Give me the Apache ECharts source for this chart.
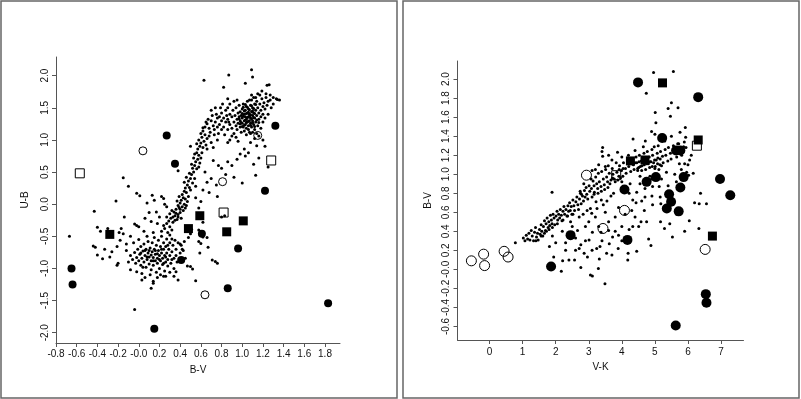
<!DOCTYPE html>
<html>
<head>
<meta charset="utf-8">
<script src="https://cdn.jsdelivr.net/npm/echarts@6/dist/echarts.min.js"></script>
<style>
html,body{margin:0;padding:0;background:#fff;}
#chart{width:801px;height:399px;}
</style>
</head>
<body>
<div id="chart"></div>
<script>
// ---------- Left panel: U-B vs B-V ----------
const leftXTicks = [-0.8,-0.6,-0.4,-0.2,0,0.2,0.4,0.6,0.8,1.0,1.2,1.4,1.6,1.8];
const leftYTicks = [-2.0,-1.5,-1.0,-0.5,0,0.5,1.0,1.5,2.0];

const ubvDots = [
[-0.08,-0.80],[-0.06,-0.86],[-0.04,-0.75],[-0.03,-0.92],[-0.02,-0.83],[-0.01,-0.70],[0.00,-0.88],[0.01,-0.78],[0.02,-0.95],[0.02,-0.66],[0.03,-0.84],[0.04,-0.73],[0.05,-0.90],[0.05,-0.62],[0.06,-0.80],[0.07,-0.98],[0.07,-0.70],[0.08,-0.86],[0.09,-0.76],[0.09,-0.58],[0.10,-0.93],[0.10,-0.82],[0.11,-0.68],[0.12,-1.02],[0.12,-0.88],[0.13,-0.74],[0.13,-0.60],[0.14,-0.83],[0.14,-0.95],[0.15,-0.70],[0.15,-0.52],[0.16,-0.88],[0.16,-0.78],[0.17,-1.06],[0.17,-0.64],[0.18,-0.84],[0.18,-0.92],[0.19,-0.72],[0.19,-0.56],[0.20,-0.80],[0.20,-1.00],[0.21,-0.66],[0.21,-0.88],[0.22,-0.76],[0.22,-0.50],[0.23,-0.94],[0.23,-0.84],[0.24,-0.70],[0.24,-0.60],[0.25,-0.80],[0.25,-1.04],[0.26,-0.90],[0.26,-0.66],[0.27,-0.76],[0.27,-0.54],[0.28,-0.86],[0.28,-0.96],[0.29,-0.70],[0.30,-0.80],[0.30,-0.60],[0.31,-0.92],[0.32,-0.74],[0.33,-0.64],[0.34,-0.84],[0.35,-0.56],[0.36,-0.70],[0.37,-0.90],[0.38,-0.60],[0.40,-0.76],
[-0.12,-0.62],[-0.10,-0.90],[-0.08,-1.02],[-0.05,-0.60],[-0.02,-1.05],[0.00,-0.55],[0.03,-1.08],[0.06,-1.14],[0.08,-0.50],[0.11,-1.10],[0.14,-1.20],[0.18,-1.14],[0.21,-1.10],[0.24,-1.12],[0.04,-0.98],[0.10,-0.72],[0.16,-0.72],[0.22,-0.70],[0.12,-0.79],[0.18,-0.77],[0.08,-0.82],[0.20,-0.86],[0.26,-0.82],[0.06,-0.72],[0.14,-0.88],[0.24,-0.92],[0.02,-0.76],[0.28,-0.64],[0.32,-0.86],[0.34,-1.00],[0.30,-1.06],[0.36,-0.80],[0.40,-0.62],[0.42,-0.70],[0.44,-0.58],
[0.22,-0.42],[0.25,-0.38],[0.28,-0.44],[0.30,-0.35],[0.27,-0.30],[0.32,-0.40],[0.24,-0.33],
[0.29,-0.26],[0.31,-0.22],[0.33,-0.28],[0.35,-0.18],[0.30,-0.15],[0.34,-0.12],[0.37,-0.24],[0.36,-0.08],[0.38,-0.16],[0.33,-0.20],[0.39,-0.05],[0.40,-0.13],[0.32,-0.10],[0.35,-0.25],[0.27,-0.20],[0.38,-0.20],[0.41,-0.22],[0.36,-0.14],
[0.38,-0.02],[0.40,0.02],[0.42,-0.04],[0.41,0.06],[0.43,0.10],[0.44,0.00],[0.45,0.08],[0.39,0.12],[0.42,0.15],[0.46,0.18],[0.44,0.20],[0.47,0.04],[0.40,-0.08],[0.43,-0.10],[0.45,-0.06],[0.48,0.12],[0.37,0.05],[0.46,-0.02],
[0.45,0.25],[0.47,0.30],[0.49,0.26],[0.48,0.36],[0.50,0.40],[0.52,0.33],[0.46,0.42],[0.51,0.46],[0.53,0.50],[0.49,0.48],[0.50,0.22],[0.54,0.40],[0.44,0.34],[0.55,0.28],
[0.52,0.56],[0.54,0.60],[0.56,0.55],[0.55,0.66],[0.57,0.70],[0.53,0.72],[0.58,0.76],[0.56,0.80],[0.59,0.64],[0.60,0.72],[0.51,0.62],[0.58,0.58],[0.61,0.80],[0.54,0.78],
[0.57,0.86],[0.59,0.90],[0.60,0.95],[0.62,0.88],[0.58,1.00],[0.61,1.04],[0.63,0.98],[0.64,1.08],[0.60,1.10],[0.66,1.02],[0.62,1.14],[0.65,0.92],[0.68,1.06],[0.56,0.94],
[0.64,1.20],[0.66,1.25],[0.68,1.18],[0.70,1.30],[0.72,1.22],[0.67,1.32],[0.74,1.28],[0.69,1.12],[0.76,1.34],[0.71,1.38],[0.65,1.28],[0.78,1.24],[0.73,1.16],[0.80,1.30],[0.75,1.40],
[0.86,1.32],[0.88,1.40],[0.88,1.24],[0.90,1.36],[0.90,1.18],[0.91,1.46],[0.92,1.28],[0.92,1.10],[0.93,1.38],[0.94,1.22],[0.94,1.50],[0.95,1.32],[0.95,1.16],[0.96,1.42],[0.96,1.26],[0.97,1.36],[0.97,1.54],[0.98,1.20],[0.98,1.30],[0.98,1.44],[0.99,1.12],[0.99,1.38],[1.00,1.26],[1.00,1.48],[1.00,1.34],[1.01,1.20],[1.01,1.56],[1.02,1.40],[1.02,1.30],[1.02,1.14],[1.03,1.46],[1.03,1.24],[1.03,1.36],[1.04,1.52],[1.04,1.18],[1.04,1.32],[1.05,1.42],[1.05,1.28],[1.05,1.60],[1.06,1.36],[1.06,1.22],[1.06,1.48],[1.07,1.30],[1.07,1.40],[1.07,1.12],[1.08,1.54],[1.08,1.34],[1.08,1.26],[1.09,1.44],[1.09,1.20],[1.09,1.62],[1.10,1.38],[1.10,1.30],[1.10,1.50],[1.11,1.24],[1.11,1.42],[1.11,1.66],[1.12,1.34],[1.12,1.56],[1.12,1.16],[1.13,1.46],[1.13,1.28],[1.14,1.38],[1.14,1.60],[1.15,1.50],[1.15,1.22],[1.16,1.42],[1.16,1.32],[1.17,1.56],[1.17,1.70],[1.18,1.46],[1.18,1.36],[1.19,1.64],[1.20,1.52],[1.20,1.40],[1.21,1.58],[1.22,1.48],[1.23,1.66],[1.24,1.54],[1.25,1.60],[1.27,1.62],[1.30,1.56],[1.33,1.64],[1.36,1.62],
[0.97,1.33],[0.99,1.27],[1.01,1.37],[1.03,1.31],[1.05,1.35],[1.07,1.37],[1.09,1.33],[1.11,1.35],[1.00,1.41],[1.02,1.45],[1.04,1.41],[1.06,1.43],[1.08,1.39],[1.10,1.45],[1.12,1.41],[0.98,1.25],[1.00,1.21],[1.02,1.23],[1.04,1.27],[1.06,1.29],[1.08,1.23],[1.10,1.27],[1.12,1.21],[1.14,1.31],[1.16,1.27],[1.01,1.51],[1.03,1.55],[1.05,1.51],[1.07,1.47],[1.09,1.53],[1.11,1.49],[1.13,1.55],[1.06,1.16],[1.08,1.10],[1.04,1.08],[1.10,1.12],[1.14,1.10],[1.18,1.18],[1.20,1.28],[1.22,1.34],[1.16,1.06],[1.12,1.02],[1.20,1.00],[1.07,1.62],[1.13,1.66],[1.15,1.72],[1.09,1.70],[1.19,1.76],[1.23,1.72],[1.27,1.70],[1.30,1.66],[1.28,1.50],[1.25,1.40],
[0.78,1.36],[0.80,1.42],[0.82,1.34],[0.84,1.28],[0.82,1.20],[0.84,1.46],[0.86,1.16],[0.80,1.16],[0.76,1.20],[0.77,1.10],[0.83,1.08],[0.85,1.38],[0.87,1.28],[0.73,1.08],[0.70,1.46],[0.74,1.50],[0.79,1.50],[0.81,1.56],[0.86,1.50],[0.88,1.56],[0.92,1.60],[0.95,1.62],[0.90,1.06],[0.94,1.04],[0.96,0.98],[0.88,1.00],[0.86,0.96],[0.76,1.00],[0.70,0.96],[0.72,0.88],[0.66,0.86],
[0.63,1.93],[0.87,2.01],[1.09,2.09],[1.10,1.98],[0.82,1.82],[1.03,1.88],[1.24,1.85],[1.26,1.86],[1.34,1.63],[0.86,1.64],[0.62,1.19],[0.50,0.90],[0.38,0.52],[0.77,0.60],[0.84,0.46],[0.90,0.60],[0.92,0.42],[1.03,0.75],[1.11,0.62],[1.14,0.91],[1.22,0.90],[1.00,0.33],[1.25,0.58],[0.76,0.12],[0.83,-0.18],[0.66,0.34],[1.13,0.45],
[0.72,0.68],[0.80,0.56],[0.86,0.66],[0.95,0.70],[0.98,0.78],[1.06,0.80],[1.16,0.72],[1.02,0.86],[1.08,0.96],[0.64,0.50],[0.70,0.40],[0.62,0.22],[0.60,0.04],[0.68,0.18],[0.75,0.30],[0.55,0.10],[0.58,-0.06],
[-0.15,0.41],[-0.10,0.28],[-0.22,0.05],[-0.02,0.17],[0.01,0.13],[-0.43,-0.11],[-0.40,-0.36],[-0.44,-0.65],[-0.42,-0.67],[-0.40,-0.79],[-0.35,-0.85],[-0.28,-0.82],[-0.26,-0.74],[-0.67,-0.50],[-0.20,-0.92],[-0.21,-0.95],[-0.14,-0.20],[-0.17,-0.38],[-0.19,-0.44],[-0.18,-0.56],[-0.15,-0.46],[-0.21,-0.66],[-0.04,-0.31],[-0.02,-0.33],[0.13,0.14],[0.15,0.06],[0.22,0.12],[0.24,0.09],[0.10,-0.13],[0.17,-0.12],[0.12,-0.27],[0.14,-0.44],[0.25,0.00],[0.27,-0.04],[-0.04,-1.64],[0.12,-1.31],[0.14,-1.23],[0.03,-1.18],[0.26,-1.12],[0.34,-1.12],[0.36,-1.05],[0.55,-1.19],[0.38,-1.18],[0.50,-0.97],[0.52,-1.01],[0.45,-0.84],[0.47,-0.96],[0.74,-0.89],[0.76,-0.92],[0.71,-0.87],[0.58,-0.58],[0.60,-0.61],[0.62,-0.51],[0.66,-0.52],[0.67,-0.67],[0.59,-0.76],[0.48,-0.52],[0.43,-0.72],[0.41,-0.64],[0.50,-0.46],[0.58,-0.40],[0.51,-0.39],[0.62,-0.28],[0.80,-0.20],[-0.30,-0.38],[-0.33,-0.70],[-0.37,-0.42],[-0.12,-0.72],[-0.08,-0.50],[0.05,-0.42],[0.00,-0.35],[0.06,-0.22],[0.20,-0.20],[0.18,-0.30],[0.08,0.02],[0.30,-0.48],[0.32,-0.54]
];
const ubvFilledCircles = [[0.27,1.07],[0.35,0.63],[0.61,-0.46],[0.41,-0.87],[0.96,-0.69],[0.86,-1.31],[1.22,0.21],[1.32,1.22],[-0.65,-1.00],[-0.64,-1.25],[0.15,-1.94],[1.83,-1.54]];
const ubvOpenCircles = [[0.04,0.83],[0.81,0.35],[0.64,-1.41],[1.15,1.07]];
const ubvFilledSquares = [[-0.28,-0.47],[0.59,-0.18],[0.48,-0.38],[0.85,-0.43],[1.01,-0.26]];
const ubvOpenSquares = [[-0.57,0.48],[0.82,-0.13],[1.28,0.68]];

// ---------- Right panel: B-V vs V-K ----------
const rightXTicks = [0,1,2,3,4,5,6,7];
const rightYTicks = [-0.6,-0.4,-0.2,0,0.2,0.4,0.6,0.8,1.0,1.2,1.4,1.6,1.8,2.0];

const vkDots = [
[1.02,0.33],[1.07,0.30],[1.11,0.36],[1.15,0.32],[1.19,0.38],[1.22,0.31],[1.26,0.41],[1.29,0.35],[1.33,0.30],[1.36,0.39],[1.39,0.44],[1.42,0.34],[1.45,0.38],[1.47,0.31],[1.51,0.42],[1.53,0.37],[1.56,0.47],[1.58,0.40],[1.61,0.35],[1.63,0.45],[1.66,0.51],[1.69,0.41],[1.71,0.48],[1.74,0.54],[1.77,0.44],[1.79,0.50],[1.82,0.46],[1.84,0.57],[1.87,0.52],[1.89,0.48],[1.92,0.58],[1.95,0.54],[1.97,0.47],[2.01,0.56],[2.04,0.61],[2.06,0.52],[2.09,0.58],[2.12,0.54],[2.14,0.63],[2.17,0.57],[2.19,0.51],[2.22,0.61],[2.25,0.66],[2.27,0.58],[2.31,0.63],[2.34,0.56],[2.37,0.67],[2.39,0.61],[2.42,0.70],[2.44,0.62],[2.47,0.66],[2.49,0.58],[2.52,0.73],[2.55,0.67],[2.57,0.62],[2.61,0.71],[2.64,0.76],[2.67,0.68],[2.69,0.63],[2.72,0.74],[2.75,0.80],[2.77,0.69],[2.81,0.77],[2.84,0.72],[2.87,0.83],[2.89,0.76],[2.92,0.86],[2.94,0.79],[2.97,0.74],[3.01,0.88],[3.03,0.82],[3.07,0.95],[3.08,0.85],[3.13,0.93],[3.16,0.88],[3.17,0.81],[3.21,0.97],[3.24,0.90],[3.27,0.85],[3.29,1.01],[3.32,0.92],[3.37,0.87],[3.39,1.03],[3.44,0.95],[3.47,0.89],[3.51,1.05],[3.54,0.97],[3.57,0.92],[3.59,1.09],[3.62,1.01],[3.67,0.94],[3.71,1.06],[3.73,1.00],[3.77,0.95],[3.83,1.12],[3.85,1.02],[3.91,0.98],[3.93,1.09],[3.99,1.04],[4.03,0.98],[4.05,1.12],[4.11,1.06],[4.13,1.01],[4.19,1.15],[4.21,1.08],[4.27,1.03],[4.29,1.16],[4.35,1.10],[4.37,1.05],[4.43,1.18],[4.45,1.12],[4.51,1.07],[4.53,1.20],[4.59,1.14],[4.61,1.09],[4.67,1.22],[4.69,1.16],[4.75,1.11],[4.77,1.24],[4.83,1.18],[4.85,1.13],[4.91,1.26],[4.93,1.20],[4.99,1.15],[5.01,1.08],[5.07,1.22],[5.09,1.17],[5.15,1.10],[5.17,1.24],[5.23,1.19],[5.25,1.12],[5.31,1.26],[5.33,1.20],[5.39,1.14],[5.41,1.28],[5.47,1.22],[5.49,1.16],[5.56,1.30],[5.59,1.24],[5.66,1.18],[5.69,1.32],[5.77,1.26],[5.81,1.20],[5.89,1.34],[5.94,1.28],
[4.40,1.12],[4.48,1.06],[4.52,1.13],[4.56,1.08],[4.60,1.04],[4.64,1.15],[4.68,1.10],[4.72,1.05],[4.76,1.16],[4.80,1.11],[4.84,1.07],[4.88,1.13],[4.92,1.08],[4.96,1.12],[5.00,1.06],[5.04,1.15],[5.08,1.11],[5.12,1.05],[5.16,1.16],[5.20,1.09],[3.88,0.94],[3.92,1.05],[3.96,0.96],[4.00,0.92],[4.04,1.06],[3.80,0.92],[3.72,0.96],[3.64,0.90],[3.58,0.86],[3.48,0.84],[3.38,0.82],[3.28,0.80],[3.10,0.76],[1.40,0.30],[1.56,0.35],[1.72,0.40],[1.90,0.44],[2.05,0.48],[2.22,0.52],[2.36,0.56],[2.52,0.58],
[4.96,2.07],[5.56,2.08],[4.74,1.85],[5.50,1.75],[5.70,1.70],[5.40,1.69],[5.01,1.65],[5.47,1.61],[5.03,1.54],[5.92,1.49],[4.90,1.45],[5.76,1.44],[5.93,1.39],[4.34,1.37],[4.71,1.35],[5.72,1.32],[3.42,1.28],[3.40,1.24],[3.87,1.23],[3.42,1.19],[4.65,1.29],[5.87,1.29],[4.98,1.29],[5.74,1.11],[5.90,1.11],[6.16,1.01],[5.96,1.02],[6.02,0.99],[6.38,0.80],[6.34,0.69],[6.56,0.69],[6.33,0.43],[6.04,0.51],[5.66,0.58],[5.45,0.48],[5.29,0.43],[5.53,0.34],[5.17,0.50],[5.18,0.69],[5.16,0.76],[4.93,0.68],[4.91,0.77],[4.68,0.62],[4.75,0.50],[4.58,0.50],[4.51,0.45],[4.33,0.45],[4.22,0.42],[3.90,0.36],[4.45,0.19],[4.88,0.25],[4.81,0.32],[3.89,0.22],[4.18,0.10],[4.19,0.17],[3.54,0.17],[3.62,0.27],[3.72,0.34],[3.32,0.11],[3.29,0.01],[3.49,-0.15],[3.11,-0.07],[3.05,-0.06],[2.76,0.02],[2.57,0.10],[2.40,0.10],[2.21,0.09],[2.17,-0.02],[1.94,0.13],[1.81,0.24],[1.66,0.38],[1.89,0.81],[2.85,0.90],[2.74,0.82],[2.78,0.79],[2.83,0.58],[2.71,0.55],[3.09,0.59],[3.05,0.64],[2.66,0.41],[2.71,0.22],[2.76,0.26],[2.86,0.17],[2.96,0.13],[3.01,0.31],[3.11,0.39],[3.24,0.22],[3.34,0.24],[3.37,0.39],[3.60,0.41],[3.16,0.79],[3.22,0.71],[3.38,0.73],[3.44,0.68],[3.67,0.77],[4.02,0.83],[4.22,0.80],[4.45,0.81],[4.33,0.73],[4.43,0.70],[4.70,0.76],[4.55,0.98],[4.48,1.04],[4.93,0.87],[5.13,0.87],[0.78,0.28],
[2.20,0.40],[2.30,0.28],[2.50,0.45],[2.60,0.33],[2.90,0.45],[3.00,0.50],[3.20,0.55],[3.30,0.45],[3.50,0.60],[3.60,0.50],[3.80,0.55],[3.90,0.65],[4.00,0.45],[4.10,0.58],[4.30,0.62],[4.40,0.55],[4.60,0.72],[4.70,0.85],[4.90,0.95],[5.20,0.95],[5.40,0.88],[5.60,1.00],[5.80,1.05],[6.00,1.10],[6.10,1.20],[5.90,0.40],[6.20,0.70],[3.40,0.30],[3.10,0.20],[2.90,0.30],[2.60,0.20],[3.80,0.40],[4.00,0.30],[3.70,0.15],[2.30,0.20],[2.00,0.28],[1.80,0.42],[1.90,0.35],[2.45,0.50],[2.95,0.62],[3.25,0.64],[3.55,0.72],[3.75,0.80],[4.25,0.90],[4.55,0.90],[4.85,0.98],[5.35,1.02],[5.65,0.92],[6.05,1.15],[5.50,1.40],[5.30,1.35],[5.10,1.30],[5.00,1.42],[4.40,1.25],[4.20,1.20],[4.00,1.18],[3.70,1.15],[3.60,1.20],[3.50,1.08],[3.30,1.10],[3.20,1.05],[3.10,1.04]
];
const vkFilledCircles = [[4.49,1.965],[6.31,1.81],[5.22,1.38],[5.64,1.25],[5.77,1.25],[4.75,0.92],[5.03,0.97],[5.87,0.97],[4.08,0.84],[5.77,0.86],[5.43,0.79],[5.49,0.71],[5.36,0.64],[5.72,0.61],[6.97,0.95],[7.28,0.78],[2.45,0.36],[4.17,0.31],[1.86,0.03],[6.54,-0.26],[6.56,-0.35],[5.63,-0.59]];
const vkOpenCircles = [[2.93,0.99],[4.08,0.62],[3.43,0.43],[6.52,0.21],[-0.55,0.09],[-0.18,0.16],[-0.15,0.04],[0.44,0.19],[0.56,0.13]];
const vkFilledSquares = [[5.23,1.96],[6.31,1.36],[4.26,1.14],[4.70,1.15],[6.74,0.35]];
const vkOpenSquares = [[6.27,1.30],[3.83,0.99]];

// ---------- chart ----------
const FONT = 'Liberation Sans, Arial, sans-serif';
function fmt1(v){ return (Math.round(v*10)/10).toFixed(1); }

function axisCommon(ticks, fmt, rotate, margin){
  return {
    axisLine:{show:true,onZero:false,lineStyle:{color:'#555',width:1}},
    axisTick:{show:true,length:4,lineStyle:{color:'#555'},customValues:ticks},
    axisLabel:{customValues:ticks,formatter:fmt,rotate:rotate,margin:margin,
      color:'#111',fontSize:10,fontFamily:FONT},
    splitLine:{show:false},
    nameTextStyle:{color:'#111',fontSize:10,fontFamily:FONT}
  };
}

function dotSeries(data, xi, yi, size){
  return {type:'scatter',xAxisIndex:xi,yAxisIndex:yi,data:data,symbol:'circle',symbolSize:size,
    itemStyle:{color:'#000',opacity:1},silent:true,z:2};
}
function markSeries(data, xi, yi, symbol, size, filled){
  return {type:'scatter',xAxisIndex:xi,yAxisIndex:yi,data:data,symbol:symbol,symbolSize:size,
    itemStyle:filled?{color:'#000',opacity:1}:{color:'rgba(255,255,255,0)',borderColor:'#000',borderWidth:1,opacity:1},
    silent:true,z:3};
}

const chart = echarts.init(document.getElementById('chart'), null, {renderer:'canvas'});
chart.setOption({
  animation:false,
  backgroundColor:'#fff',
  graphic:[
    {type:'rect',shape:{x:1,y:1,width:396,height:397},style:{fill:'none',stroke:'#666',lineWidth:1.5},silent:true},
    {type:'rect',shape:{x:403,y:1,width:396,height:397},style:{fill:'none',stroke:'#666',lineWidth:1.5},silent:true}
  ],
  grid:[
    {left:56,top:57,width:284,height:286},
    {left:457.5,top:61,width:286,height:279}
  ],
  xAxis:[
    Object.assign({type:'value',gridIndex:0,min:-0.8,max:1.945,name:'B-V',nameLocation:'middle',nameGap:22},
      axisCommon(leftXTicks, v=> (Math.abs(v)<1e-9?'-0.0':fmt1(v)), 0, 6)),
    Object.assign({type:'value',gridIndex:1,min:-0.97,max:7.68,name:'V-K',nameLocation:'middle',nameGap:21},
      axisCommon(rightXTicks, v=> String(Math.round(v)), 0, 7))
  ],
  yAxis:[
    Object.assign({type:'value',gridIndex:0,min:-2.16,max:2.29,name:'U-B',nameLocation:'middle',nameGap:26},
      axisCommon(leftYTicks, v=> (Math.abs(v)<1e-9?'0.0':fmt1(v)), 90, 6)),
    Object.assign({type:'value',gridIndex:1,min:-0.742,max:2.19,name:'B-V',nameLocation:'middle',nameGap:24},
      axisCommon(rightYTicks, v=> (Math.abs(v)<1e-9?'-0.0':fmt1(v)), 90, 6))
  ],
  series:[
    dotSeries(ubvDots,0,0,3),
    markSeries(ubvFilledCircles,0,0,'circle',8,true),
    markSeries(ubvOpenCircles,0,0,'circle',8,false),
    markSeries(ubvFilledSquares,0,0,'rect',9,true),
    markSeries(ubvOpenSquares,0,0,'rect',9,false),
    dotSeries(vkDots,1,1,3),
    markSeries(vkFilledCircles,1,1,'circle',10,true),
    markSeries(vkOpenCircles,1,1,'circle',10,false),
    markSeries(vkFilledSquares,1,1,'rect',9,true),
    markSeries(vkOpenSquares,1,1,'rect',9,false)
  ]
});
</script>
</body>
</html>
